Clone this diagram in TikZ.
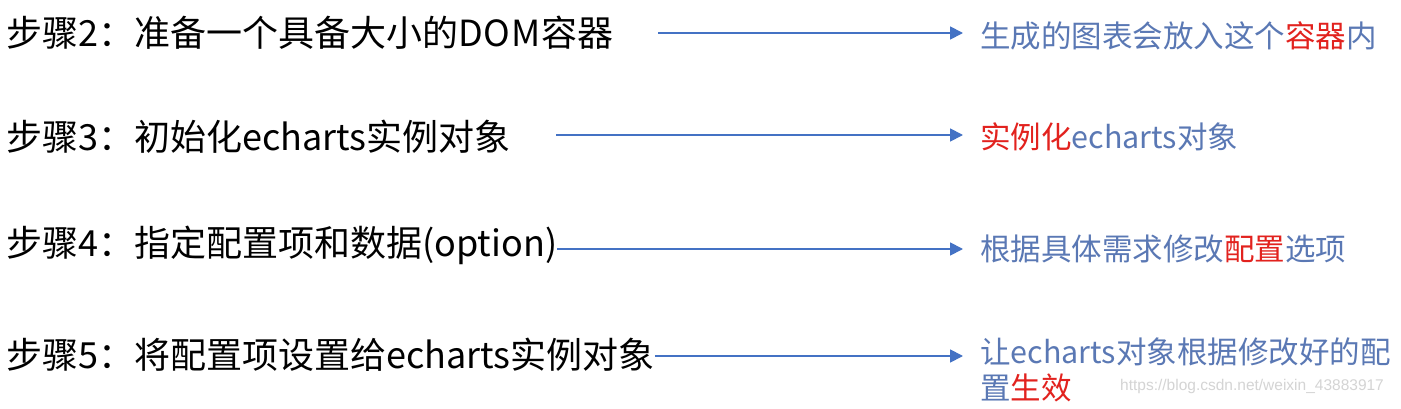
\documentclass[tikz,border=0pt]{standalone}
\usepackage{fontspec}
\setmainfont{Noto Sans CJK SC}
\usetikzlibrary{arrows.meta}
\definecolor{arrblue}{HTML}{4472C4}
\definecolor{txtblue}{HTML}{5A78B4}
\definecolor{hired}{HTML}{E2221E}
\definecolor{wmgray}{HTML}{D4D4D4}
\tikzset{
  lefttxt/.style={anchor=west, inner sep=0pt, font=\fontsize{36}{40}\selectfont, text=black},
  righttxt/.style={anchor=west, inner sep=0pt, font=\fontsize{30.5}{36}\selectfont, text=txtblue, align=left},
  arr/.style={draw=arrblue, line width=1.8pt, -{Triangle[length=13pt,width=13pt]}},
  wmark/.style={anchor=west, inner sep=0pt, font=\fontspec{Liberation Sans}\fontsize{15.5}{18}\selectfont, text=wmgray}
}
\begin{document}
\begin{tikzpicture}[x=1pt,y=-1pt]
\useasboundingbox[fill=white] (0,0) rectangle (1401,409);
\node[lefttxt] (l1) at (6,33) {步骤2：准备一个具备大小的D\kern1ptO\kern1ptM\kern1pt容器};
\node[lefttxt] (l2) at (6,137) {步骤3：初始化echarts实例对象};
\node[lefttxt] (l3) at (6,245) {步骤4：指定配置项和数据(option)};
\node[lefttxt] (l4) at (6,355) {步骤5：将配置项设置给echarts实例对象};
\coordinate (s1) at (658,33);
\coordinate (s2) at (556,135);
\coordinate (e1) at (963,33);
\coordinate (e2) at (963,135);
\coordinate (e3) at (963,249);
\coordinate (e4) at (963,356);
\node[righttxt] (r1) at (980,36) {生成的图表会放入这个\textcolor{hired}{容器}内};
\node[righttxt] (r2) at (980,137) {\textcolor{hired}{实例化}echarts对象};
\node[righttxt] (r3) at (980,249) {根据具体需求修改\textcolor{hired}{配置}选项};
\node[righttxt, anchor=north west] (r4) at (980,338) {让echarts对象根据修改好的配\\置\textcolor{hired}{生效}};
\node[wmark] (wm) at (1120,386) {https://blog.csdn.net/weixin\_43883917};
\draw[arr] (s1) -- (e1);
\draw[arr] (s2) -- (e2);
\draw[arr] (l3.east |- e3) -- (e3);
\draw[arr] (l4.east |- e4) -- (e4);
\end{tikzpicture}
\end{document}
